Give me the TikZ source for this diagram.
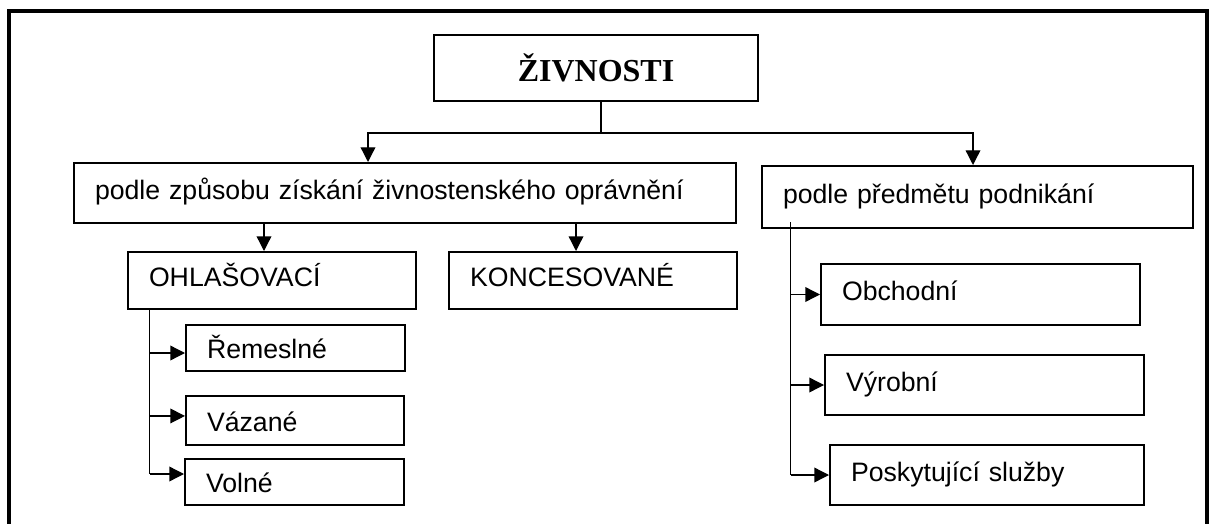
\documentclass[tikz,border=0pt]{standalone}
\usepackage{fontspec}
\setmainfont{Liberation Sans}
\newfontfamily\nadpisfont{Liberation Serif}
\usetikzlibrary{arrows.meta}
\tikzset{
  box/.style={draw, line width=1.5pt, anchor=north west, inner xsep=15.75pt, inner ysep=0pt,
    align=left, text height=14pt, text depth=4.5pt, font=\fontsize{20}{23}\selectfont},
  malybox/.style={box, text height=18pt, text depth=2pt},
  nadpis/.style={draw, line width=1.5pt, anchor=north west, minimum width=243pt, minimum height=49.5pt,
    font=\nadpisfont\bfseries\fontsize{24}{27}\selectfont},
  spoj/.style={line width=1pt},
  sipka/.style={spoj, -{Triangle[length=11pt,width=11pt]}}
}
\begin{document}
\begin{tikzpicture}[x=0.75pt, y=-0.75pt]
\useasboundingbox (0,0) rectangle (1212,524);
% ramecek
\draw [line width=3pt] (8.5,524) -- (8.5,11) -- (1207,11) -- (1207,524);
% uzly
\node [nadpis] (zivnosti) at (433,34) {ŽIVNOSTI};
\node [box, text width=465pt, minimum height=45pt] (zpusob) at (73,162) {podle způsobu získání živnostenského oprávnění};
\node [box, text width=291.75pt, minimum height=46.5pt] (predmet) at (761,165) {podle předmětu podnikání};
\node [box, text width=184.5pt, minimum height=42.75pt] (ohl) at (127,251) {OHLAŠOVACÍ};
\node [box, text width=184.5pt, minimum height=42.75pt] (konc) at (448,251) {KONCESOVANÉ};
\node [malybox, text width=132.75pt, minimum height=34.5pt] (rem) at (185,324) {Řemeslné};
\node [malybox, text width=132pt, minimum height=36.75pt] (vaz) at (185,395) {Vázané};
\node [malybox, text width=132.75pt, minimum height=34.5pt] (vol) at (184,458) {Volné};
\node [box, text width=207.75pt, minimum height=45.75pt] (obch) at (820,263) {Obchodní};
\node [box, text width=207.75pt, minimum height=45pt] (vyr) at (824,354) {Výrobní};
\node [box, text width=204pt, minimum height=45pt] (posk) at (829,444) {Poskytující služby};
% hlavni vetev
\coordinate (uzel) at (601,133);
\coordinate (xa) at (368,0);
\coordinate (xb) at (973,0);
\draw [spoj] (uzel |- zivnosti.south) -- (uzel);
\draw [sipka] (uzel) -| (xa |- zpusob.north);
\draw [sipka] (uzel) -| (xb |- predmet.north);
% ohlasovaci a koncesovane
\coordinate (xc) at (264,0);
\coordinate (xd) at (576,0);
\draw [sipka] (xc |- zpusob.south) -- (xc |- ohl.north);
\draw [sipka] (xd |- zpusob.south) -- (xd |- konc.north);
% druhy ohlasovacich zivnosti
\coordinate (xe) at (149.5,0);
\draw [spoj] (xe |- ohl.south) -- ([yshift=6pt]xe |- vol.west);
\foreach \n/\s in {rem/-3.75, vaz/3.4, vol/6}
  \draw [sipka] ([yshift=\s pt]xe |- \n.west) -- ([yshift=\s pt]\n.west);
% podle predmetu
\coordinate (xf) at (790.5,0);
\draw [spoj] ([yshift=5.25pt]xf |- predmet.south) -- (xf |- posk.west);
\foreach \n in {obch, vyr, posk}
  \draw [sipka] (xf |- \n.west) -- (\n.west);
\end{tikzpicture}
\end{document}
